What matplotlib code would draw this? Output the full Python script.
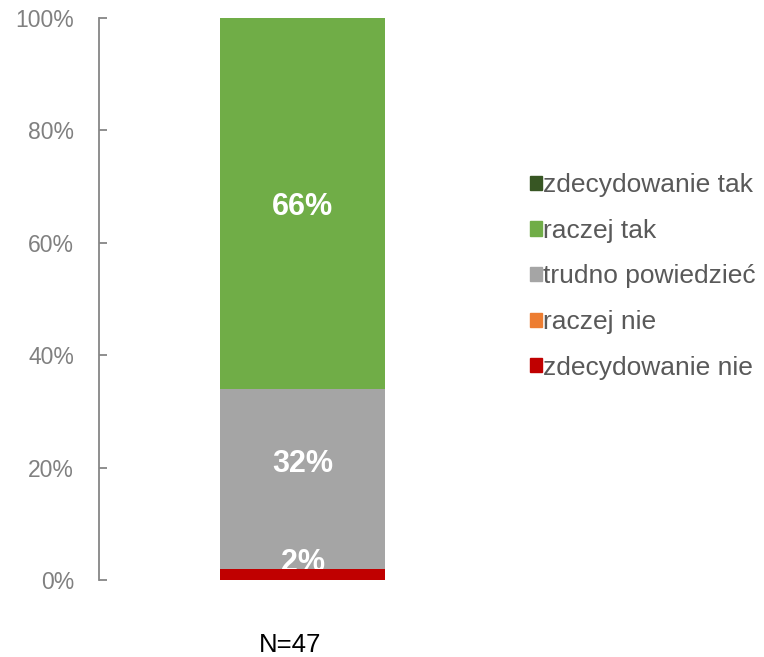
import matplotlib.pyplot as plt
from matplotlib.patches import Patch
from matplotlib.transforms import ScaledTranslation

plt.rcParams['font.family'] = ['Liberation Sans', 'DejaVu Sans']

# Dane
kategorie = ['N=47']
etykiety = ['zdecydowanie nie', 'raczej nie', 'trudno powiedzieć', 'raczej tak', 'zdecydowanie tak']
wartosci = [2, 0, 32, 66, 0]
kolory = ['#C00000', '#ED7D31', '#A5A5A5', '#70AD47', '#375623']
yticks = [0, 20, 40, 60, 80, 100]

# przesunięcie etykiet danych w pionie (pt), jak w oryginale z Excela
przesuniecia = [8, 0, 11, -2.5, 0]

fig = plt.figure(figsize=(7.64, 6.57), dpi=100)
ax = fig.add_axes([99 / 764, 1 - 580 / 657, 407 / 764, 562 / 657])

dol = 0
for i, (nazwa, v, c) in enumerate(zip(etykiety, wartosci, kolory)):
    # pierwszy segment (czerwony) przykrywa etykietę "2%" jak w oryginale
    ax.bar(0, v, bottom=dol, width=0.405, color=c, label=nazwa,
           zorder=3 if i == 0 else 1)
    if v > 0:
        ax.annotate(f'{v}%', (0, dol + v / 2), xytext=(0, przesuniecia[i]),
                    textcoords='offset points', ha='center', va='center',
                    color='white', fontsize=22, fontweight='bold', zorder=2)
    dol += v

ax.set_xlim(-0.5, 0.5)
ax.set_ylim(0, 100)
ax.set_yticks(yticks)
ax.set_yticklabels([f'{t}%' for t in yticks])
ax.set_xticks([0])
ax.set_xticklabels(kategorie)

szary = '#868686'
for s in ['top', 'right', 'bottom']:
    ax.spines[s].set_visible(False)
ax.spines['left'].set_color(szary)
ax.spines['left'].set_linewidth(1.3)
ax.tick_params(axis='y', direction='in', length=6, width=1.3, color=szary,
               labelcolor='#808080', labelsize=16.5, pad=18)
ax.tick_params(axis='x', length=0, labelsize=18.5, labelcolor='black', pad=38)
for lab in ax.get_xticklabels():
    lab.set_transform(lab.get_transform() + ScaledTranslation(-0.12, 0, fig.dpi_scale_trans))

# Legenda (od góry: zdecydowanie tak ... zdecydowanie nie)
uchwyty = [Patch(color=c) for c in kolory[::-1]]
fig.legend(uchwyty, etykiety[::-1], loc='center left',
           bbox_to_anchor=(530 / 764, 1 - 276.5 / 657), frameon=False,
           fontsize=19, labelcolor='#595959', handlelength=0.45, handleheight=0.45,
           handletextpad=0.05, labelspacing=0.82, borderpad=0, borderaxespad=0)

plt.savefig('out.png', dpi=100)
